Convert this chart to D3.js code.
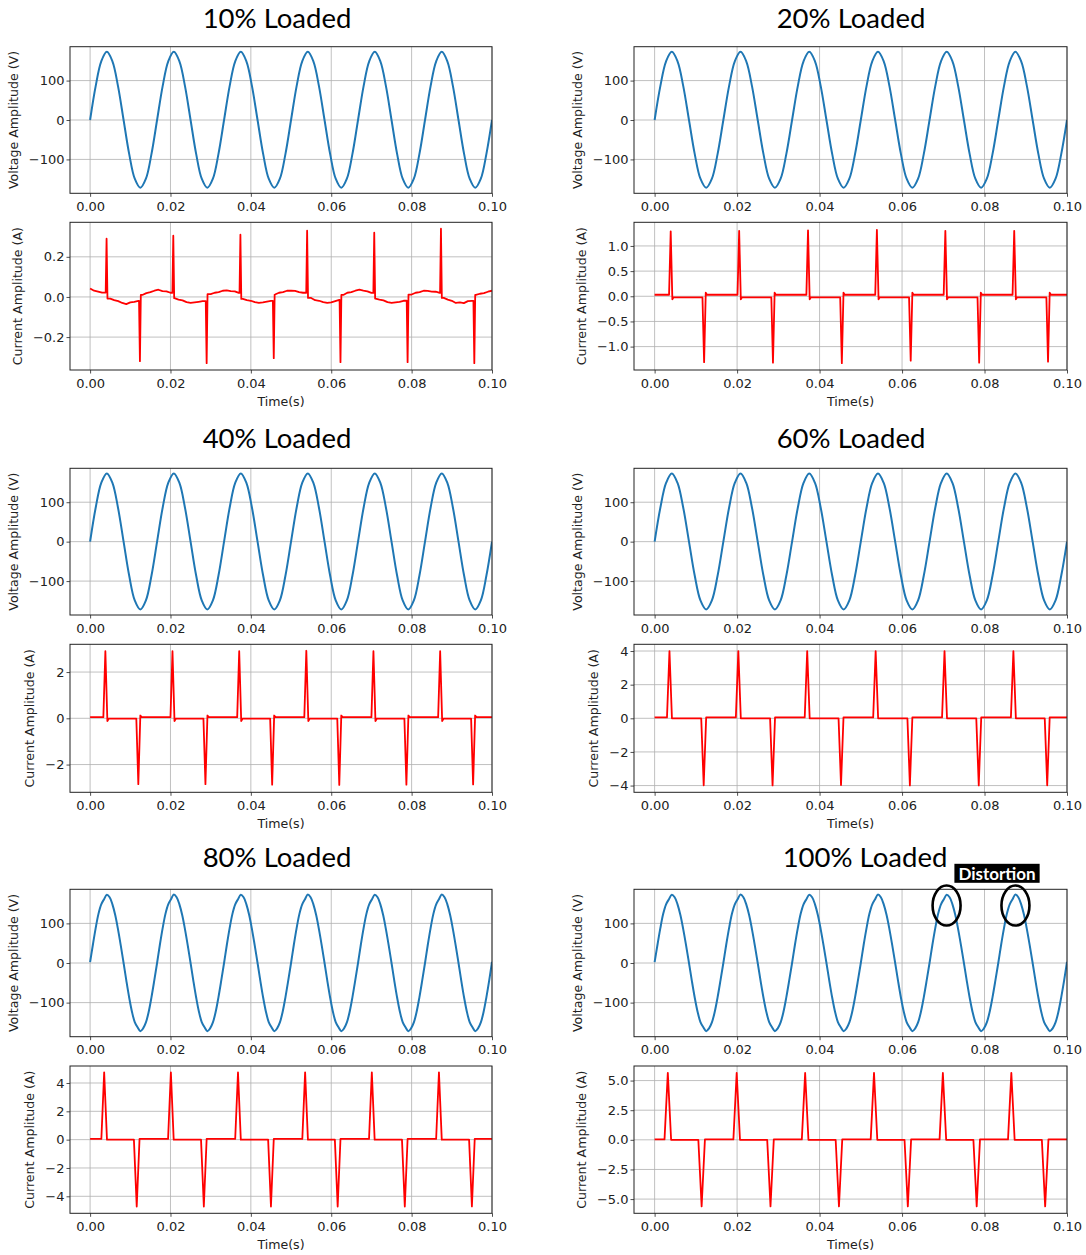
<!DOCTYPE html>
<html>
<head>
<meta charset="utf-8">
<script src="https://cdn.jsdelivr.net/npm/d3@7"></script>
<style>
  body { margin: 0; background: #fff; }
  svg { display: block; }
</style>
</head>
<body>
<div id="chart"></div>
<script>
// Titles and shared ticks
const loadLabels = ['10% Loaded', '20% Loaded', '40% Loaded', '60% Loaded', '80% Loaded', '100% Loaded'];
const timeTicks = [0, 0.02, 0.04, 0.06, 0.08, 0.10];
const voltageTicks = [-100, 0, 100];
const currentTicks10 = [-0.2, 0, 0.2];
const currentTicks20 = [-1.0, -0.5, 0, 0.5, 1.0];
const currentTicks40 = [-2, 0, 2];
const currentTicks60 = [-4, -2, 0, 2, 4];
const currentTicks80 = [-4, -2, 0, 2, 4];
const currentTicks100 = [-5.0, -2.5, 0, 2.5, 5.0];

// Voltage read every 1/72 of the 0.1 s window (12 samples per 60 Hz cycle)
const voltageSmooth = [
  0, 86, 149, 173, 149, 86, 0, -86, -149, -172, -149, -86,
  0, 86, 149, 173, 149, 86, 0, -86, -149, -172, -149, -86,
  0, 86, 149, 173, 149, 86, 0, -86, -149, -172, -149, -86,
  0, 86, 149, 173, 149, 86, 0, -86, -149, -172, -149, -86,
  0, 86, 149, 173, 149, 86, 0, -86, -149, -172, -149, -86,
  0, 86, 149, 173, 149, 86, 0, -86, -149, -172, -149, -86,
  0
];

// Voltage at heavier load, read every 1/144 of the window (slight shoulders near the peaks)
const voltageDistorted = [
  2, 46, 88, 124, 148, 161, 172, 166, 148, 121, 85, 44, 0, -45, -87, -123, -149, -162, -172, -165, -150, -123, -86, -44,
  0, 46, 88, 124, 148, 161, 173, 166, 148, 121, 85, 44, 0, -45, -87, -123, -149, -162, -172, -165, -150, -123, -86, -44,
  0, 46, 88, 124, 148, 161, 172, 166, 148, 121, 85, 44, 0, -45, -87, -123, -149, -162, -172, -165, -150, -123, -86, -44,
  0, 46, 88, 124, 148, 161, 173, 166, 148, 121, 85, 44, 0, -45, -87, -123, -149, -162, -172, -165, -150, -123, -86, -44,
  0, 46, 88, 124, 148, 161, 172, 166, 148, 121, 85, 44, 0, -45, -87, -123, -149, -162, -172, -165, -150, -123, -86, -44,
  0, 46, 88, 124, 148, 161, 173, 166, 148, 121, 85, 44, 0, -45, -87, -123, -149, -162, -172, -165, -150, -123, -86, -44,
  3
];

// 10% load current between the spikes, read every 1 ms
const baseline10 = [
  0.042, 0.031, 0.027, 0.022, 0.018, -0.008, -0.016, -0.021, -0.030, -0.036,
  -0.027, -0.025, -0.020, 0.010, 0.019, 0.024, 0.031, 0.036, 0.029, 0.028,
  0.021, -0.006, -0.013, -0.017, -0.026, -0.030, -0.027, -0.024, -0.021, -0.015,
  0.014, 0.021, 0.024, 0.031, 0.033, 0.029, 0.028, 0.020, -0.010, -0.016,
  -0.019, -0.026, -0.030, -0.027, -0.023, -0.020, 0.012, 0.021, 0.024, 0.031,
  0.032, 0.030, 0.024, 0.021, 0.015, -0.005, -0.016, -0.019, -0.026, -0.030,
  -0.027, -0.021, -0.015, 0.010, 0.021, 0.024, 0.031, 0.036, 0.031, 0.028,
  0.020, -0.008, -0.013, -0.017, -0.026, -0.030, -0.027, -0.025, -0.019, -0.020,
  0.012, 0.021, 0.024, 0.031, 0.030, 0.027, 0.026, 0.020, -0.005, -0.013,
  -0.019, -0.030, -0.027, -0.031, -0.021, -0.020, 0.010, 0.016, 0.019, 0.026,
  0.031
];

// Current spikes: [time (s), peak (A)]
const spikes10 = [
  [0.0041, 0.29], [0.0124, -0.32], [0.0207, 0.305], [0.0290, -0.33], [0.0374, 0.31], [0.0457, -0.305],
  [0.0540, 0.33], [0.0623, -0.325], [0.0707, 0.32], [0.0790, -0.325], [0.0873, 0.34], [0.0956, -0.33]
];
const spikes20 = [
  [0.0039, 1.29], [0.0120, -1.31], [0.0205, 1.30], [0.0287, -1.32], [0.0372, 1.31], [0.0454, -1.33],
  [0.0539, 1.32], [0.0621, -1.28], [0.0705, 1.30], [0.0787, -1.32], [0.0872, 1.30], [0.0954, -1.30]
];
const spikes40 = [
  [0.0038, 2.90], [0.0120, -2.85], [0.0205, 2.90], [0.0287, -2.85], [0.0371, 2.90], [0.0453, -2.87],
  [0.0538, 2.92], [0.0620, -2.88], [0.0705, 2.90], [0.0787, -2.87], [0.0871, 2.90], [0.0953, -2.86]
];
const spikes60 = [
  [0.0036, 4.00], [0.0119, -3.98], [0.0203, 4.00], [0.0286, -3.99], [0.0370, 4.00], [0.0452, -3.97],
  [0.0536, 4.00], [0.0619, -3.99], [0.0703, 4.00], [0.0786, -3.99], [0.0870, 4.00], [0.0952, -3.98]
];
const spikes80 = [
  [0.0035, 4.75], [0.0116, -4.72], [0.0201, 4.75], [0.0283, -4.72], [0.0368, 4.74], [0.0450, -4.72],
  [0.0535, 4.75], [0.0616, -4.72], [0.0701, 4.75], [0.0783, -4.72], [0.0868, 4.75], [0.0950, -4.71]
];
const spikes100 = [
  [0.0032, 5.65], [0.0114, -5.62], [0.0199, 5.65], [0.0281, -5.62], [0.0365, 5.64], [0.0447, -5.62],
  [0.0532, 5.65], [0.0614, -5.62], [0.0699, 5.64], [0.0781, -5.62], [0.0865, 5.65], [0.0947, -5.62]
];

// Resting current level [after a negative spike, after a positive spike]
const rest20 = [0.03, -0.02];
const rest40 = [0.05, -0.01];
const rest60 = [0.05, 0.0];
const rest80 = [0.05, 0.0];
const rest100 = [0.04, 0.0];

// Small overshoot just after a spike [after a negative spike, after a positive spike]
const kick20 = [0.07, -0.06];
const kick40 = [0.12, -0.12];

const width = 1086;
const height = 1255;
const voltageColor = '#1f77b4';
const currentColor = '#ff0000';
const tickFont = 'DejaVu Sans, sans-serif';

const cols = [
  { x0: 70, x1: 492, titleX: 277 },
  { x0: 634, x1: 1067, titleX: 851 }
];
const rows = [
  { titleY: 28.3, v: [46.7, 193.3], c: [222.3, 370] },
  { titleY: 448.3, v: [468.3, 615], c: [644.3, 792.3] },
  { titleY: 867.3, v: [889.3, 1036.7], c: [1066, 1213.3] }
];

const panels = [
  { label: loadLabels[0], col: 0, row: 0, voltage: voltageSmooth, spikes: spikes10, baseline: baseline10, halfWidth: 0.00022, iDomain: [-0.364, 0.372], iTicks: currentTicks10, iFormat: '.1f' },
  { label: loadLabels[1], col: 1, row: 0, voltage: voltageSmooth, spikes: spikes20, rest: rest20, kick: kick20, halfWidth: 0.0004, iDomain: [-1.465, 1.47], iTicks: currentTicks20, iFormat: '.1f' },
  { label: loadLabels[2], col: 0, row: 1, voltage: voltageSmooth, spikes: spikes40, rest: rest40, kick: kick40, halfWidth: 0.0005, iDomain: [-3.2, 3.2], iTicks: currentTicks40, iFormat: 'd' },
  { label: loadLabels[3], col: 1, row: 1, voltage: voltageSmooth, spikes: spikes60, rest: rest60, halfWidth: 0.0006, iDomain: [-4.4, 4.4], iTicks: currentTicks60, iFormat: 'd' },
  { label: loadLabels[4], col: 0, row: 2, voltage: voltageDistorted, spikes: spikes80, rest: rest80, halfWidth: 0.0007, iDomain: [-5.2, 5.2], iTicks: currentTicks80, iFormat: 'd' },
  { label: loadLabels[5], col: 1, row: 2, voltage: voltageDistorted, spikes: spikes100, rest: rest100, halfWidth: 0.0008, iDomain: [-6.2, 6.23], iTicks: currentTicks100, iFormat: '.1f', titleShift: 14, distortion: [0.0708, 0.0875] }
];

const svg = d3.select('#chart').append('svg')
  .attr('width', width)
  .attr('height', height)
  .attr('viewBox', `0 0 ${width} ${height}`);

svg.append('rect').attr('width', width).attr('height', height).attr('fill', '#fff');
const defs = svg.append('defs');

// Build the current trace from resting level + spikes
function currentPoints(p) {
  const hw = p.halfWidth;
  const spikes = p.spikes.slice().sort((a, b) => a[0] - b[0]);
  const pts = [];
  if (p.baseline) {
    const step = 0.1 / (p.baseline.length - 1);
    const samples = p.baseline.map((v, i) => [i * step, v]);
    samples.forEach(s => {
      if (!spikes.some(k => Math.abs(s[0] - k[0]) < hw + 1e-9)) pts.push(s);
    });
    spikes.forEach(k => {
      const before = samples.filter(s => s[0] <= k[0] - hw).pop();
      const after = samples.find(s => s[0] >= k[0] + hw);
      pts.push([k[0] - hw, before[1]], k, [k[0] + hw, after[1]]);
    });
  } else {
    let level = p.rest[0];
    pts.push([0, level]);
    spikes.forEach(k => {
      pts.push([k[0] - hw, level], k);
      const afterPos = k[1] > 0;
      level = afterPos ? p.rest[1] : p.rest[0];
      if (p.kick) {
        pts.push([k[0] + hw, afterPos ? p.kick[1] : p.kick[0]], [k[0] + hw * 1.7, level]);
      } else {
        pts.push([k[0] + hw, level]);
      }
    });
    pts.push([0.1, level]);
  }
  return pts.sort((a, b) => a[0] - b[0]);
}

function drawAxes(g, x, y, yTicks, yFormat, yLabel, showTimeLabel, id) {
  const [x0, x1] = x.range();
  const [y1, y0] = y.range();

  defs.append('clipPath').attr('id', id)
    .append('rect').attr('x', x0).attr('y', y0).attr('width', x1 - x0).attr('height', y1 - y0);

  // grid
  const grid = g.append('g').attr('stroke', '#b0b0b0').attr('stroke-width', 0.8);
  grid.selectAll('.gx').data(timeTicks).join('line')
    .attr('x1', d => x(d)).attr('x2', d => x(d)).attr('y1', y0).attr('y2', y1);
  grid.selectAll('.gy').data(yTicks).join('line')
    .attr('y1', d => y(d)).attr('y2', d => y(d)).attr('x1', x0).attr('x2', x1);

  const xAxis = g.append('g')
    .attr('transform', `translate(0,${y1})`)
    .call(d3.axisBottom(x).tickValues(timeTicks).tickFormat(d3.format('.2f')).tickSize(3.5).tickPadding(5));
  const yAxis = g.append('g')
    .attr('transform', `translate(${x0},0)`)
    .call(d3.axisLeft(y).tickValues(yTicks).tickFormat(d3.format(yFormat)).tickSize(3.5).tickPadding(2));
  [xAxis, yAxis].forEach(a => {
    a.select('.domain').remove();
    a.selectAll('line').attr('stroke', '#222').attr('stroke-width', 0.8);
    a.selectAll('text').attr('fill', '#222').style('font-family', tickFont).style('font-size', '13px');
  });

  // y label sits left of the widest tick label
  let tickLeft = x0;
  yAxis.selectAll('text').each(function () {
    const b = this.getBBox();
    tickLeft = Math.min(tickLeft, x0 + b.x);
  });
  g.append('text')
    .attr('transform', `translate(${tickLeft - 11},${(y0 + y1) / 2}) rotate(-90)`)
    .attr('text-anchor', 'middle')
    .attr('fill', '#222')
    .style('font-family', tickFont)
    .style('font-size', '12.6px')
    .text(yLabel);

  if (showTimeLabel) {
    g.append('text')
      .attr('x', (x0 + x1) / 2)
      .attr('y', y1 + 36)
      .attr('text-anchor', 'middle')
      .attr('fill', '#222')
      .style('font-family', tickFont)
      .style('font-size', '12.6px')
      .text('Time(s)');
  }
}

function drawSpine(g, x, y) {
  const [x0, x1] = x.range();
  const [y1, y0] = y.range();
  g.append('rect')
    .attr('x', x0).attr('y', y0).attr('width', x1 - x0).attr('height', y1 - y0)
    .attr('fill', 'none').attr('stroke', '#222').attr('stroke-width', 1);
}

panels.forEach((p, idx) => {
  const col = cols[p.col];
  const row = rows[p.row];
  const g = svg.append('g').attr('class', 'panel');

  g.append('text')
    .attr('x', col.titleX + (p.titleShift || 0))
    .attr('y', row.titleY)
    .attr('text-anchor', 'middle')
    .attr('fill', '#000')
    .style('font-family', 'Lato, "Open Sans", sans-serif')
    .style('font-size', '27.5px')
    .text(p.label);

  const x = d3.scaleLinear().domain([-0.005, 0.1]).range([col.x0, col.x1]);

  // voltage
  const yV = d3.scaleLinear().domain([-186, 186]).range([row.v[1], row.v[0]]);
  const gv = g.append('g');
  drawAxes(gv, x, yV, voltageTicks, 'd', 'Voltage Amplitude (V)', false, 'clipV' + idx);
  const vStep = 0.1 / (p.voltage.length - 1);
  gv.append('path')
    .datum(p.voltage)
    .attr('clip-path', `url(#clipV${idx})`)
    .attr('fill', 'none')
    .attr('stroke', voltageColor)
    .attr('stroke-width', 2)
    .attr('stroke-linejoin', 'round')
    .attr('d', d3.line().curve(d3.curveCatmullRom.alpha(0.5)).x((d, i) => x(i * vStep)).y(d => yV(d)));
  drawSpine(gv, x, yV);

  // current
  const yI = d3.scaleLinear().domain(p.iDomain).range([row.c[1], row.c[0]]);
  const gi = g.append('g');
  drawAxes(gi, x, yI, p.iTicks, p.iFormat, 'Current Amplitude (A)', true, 'clipI' + idx);
  gi.append('path')
    .datum(currentPoints(p))
    .attr('clip-path', `url(#clipI${idx})`)
    .attr('fill', 'none')
    .attr('stroke', currentColor)
    .attr('stroke-width', 1.8)
    .attr('stroke-linejoin', 'round')
    .attr('d', d3.line().x(d => x(d[0])).y(d => yI(d[1])));
  drawSpine(gi, x, yI);

  // distortion markers on the heavily loaded voltage
  if (p.distortion) {
    const ann = g.append('g');
    ann.selectAll('ellipse').data(p.distortion).join('ellipse')
      .attr('cx', d => x(d))
      .attr('cy', yV(145))
      .attr('rx', 14)
      .attr('ry', 20)
      .attr('fill', 'none')
      .attr('stroke', '#000')
      .attr('stroke-width', 2.6);
    const tx = (x(p.distortion[0]) + x(p.distortion[1])) / 2 + 16;
    const label = ann.append('text')
      .attr('x', tx)
      .attr('y', row.v[0] - 9)
      .attr('text-anchor', 'middle')
      .attr('fill', '#fff')
      .style('font-family', 'Lato, "Open Sans", sans-serif')
      .style('font-weight', 700)
      .style('font-size', '17px')
      .text('Distortion');
    const b = label.node().getBBox();
    ann.insert('rect', 'text')
      .attr('x', b.x - 4).attr('y', row.v[0] - 25.5)
      .attr('width', b.width + 8).attr('height', 19)
      .attr('fill', '#000');
  }
});
</script>
</body>
</html>
